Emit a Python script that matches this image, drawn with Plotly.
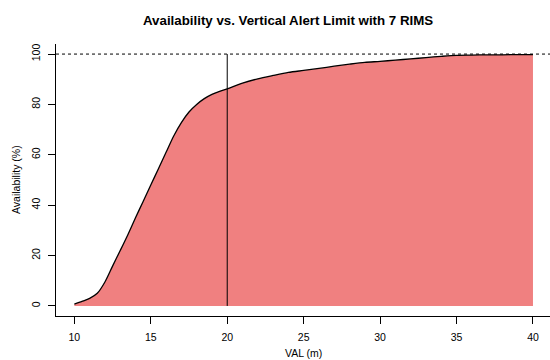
import plotly.graph_objects as go

# Vertical alert limit (m) and corresponding availability (%)
val_m = [10, 10.5, 11, 11.5, 12, 12.5, 13, 13.5, 14, 14.5, 15, 15.5, 16, 16.5,
         17, 17.5, 18, 18.5, 19, 19.5, 20, 21, 22, 23, 24, 25, 26, 27, 28, 29,
         30, 31, 32, 33, 34, 35, 36, 37, 38, 39, 40]
availability = [0.7, 1.8, 3.0, 5.0, 9.5, 15.8, 22.0, 28.3, 35.0, 41.5, 48.0,
                54.5, 61.0, 67.5, 72.8, 77.0, 80.0, 82.3, 84.0, 85.2, 86.2,
                88.5, 90.2, 91.5, 92.7, 93.5, 94.3, 95.2, 96.0, 96.7, 97.1,
                97.6, 98.1, 98.6, 99.1, 99.5, 99.6, 99.7, 99.7, 99.8, 99.8]

x_ticks = [10, 15, 20, 25, 30, 35, 40]
y_ticks = [0, 20, 40, 60, 80, 100]

ref_val = [20, 20]
ref_span = [0, 100]
full_avail = 100

font_main = "Liberation Sans, Arial, sans-serif"

fig = go.Figure()

fig.add_trace(go.Scatter(
    x=val_m, y=availability, mode="lines",
    fill="tozeroy", fillcolor="#F08080",
    line=dict(color="black", width=1.3, shape="spline", smoothing=0.8),
    hoverinfo="skip", showlegend=False,
))

fig.add_trace(go.Scatter(
    x=ref_val, y=ref_span, mode="lines",
    line=dict(color="black", width=1),
    hoverinfo="skip", showlegend=False,
))

fig.add_shape(type="line", xref="paper", x0=0, x1=1, yref="y",
              y0=full_avail, y1=full_avail,
              line=dict(color="black", width=1, dash="dot"))

fig.update_layout(
    width=550, height=360,
    margin=dict(l=56, r=0, t=44, b=44),
    paper_bgcolor="white", plot_bgcolor="white",
    font=dict(family=font_main, size=10.5, color="black"),
    xaxis=dict(
        range=[8.8, 8.8 + 494.4 / 15.3],
        tickvals=x_ticks, ticks="outside", ticklen=7, tickwidth=1,
        tickcolor="black", showgrid=False, zeroline=False,
        showline=True, linecolor="black", linewidth=1,
        ticklabelstandoff=4,
    ),
    yaxis=dict(
        range=[-4, 104],
        tickvals=y_ticks, ticks="outside", ticklen=7, tickwidth=1,
        tickcolor="black", showgrid=False, zeroline=False,
        showline=True, linecolor="black", linewidth=1,
        tickangle=-90, ticklabelstandoff=4,
    ),
    annotations=[
        dict(text="<b>Availability vs. Vertical Alert Limit with 7 RIMS</b>",
             xref="paper", yref="paper", x=(288 - 56) / 494, y=1,
             yshift=23.5, xanchor="center", yanchor="middle",
             showarrow=False, font=dict(size=13.3)),
        dict(text="VAL (m)", xref="paper", yref="paper",
             x=(303.5 - 56) / 494, y=0, yshift=-37,
             xanchor="center", yanchor="middle", showarrow=False,
             font=dict(size=10.5)),
        dict(text="Availability (%)", xref="paper", yref="paper",
             x=0, xshift=-40, y=0.5, textangle=-90,
             xanchor="center", yanchor="middle", showarrow=False,
             font=dict(size=10.5)),
    ],
)

fig.write_html("out.html")
